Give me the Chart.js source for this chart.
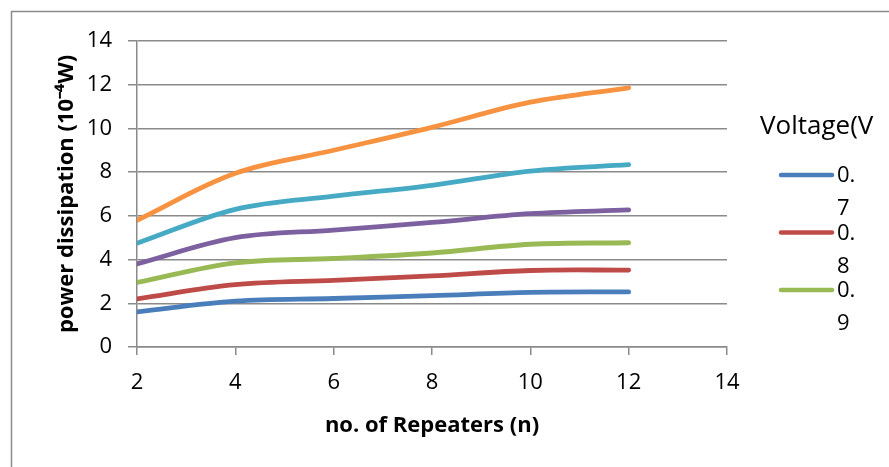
<!DOCTYPE html>
<html>
<head>
<meta charset="utf-8">
<script src="https://cdn.jsdelivr.net/npm/chart.js@4"></script>
<style>
  html, body { margin: 0; padding: 0; background: #fff; }
  #wrap { width: 889px; height: 467px; }
</style>
</head>
<body>
<div id="wrap"><canvas id="chart" width="889" height="467"></canvas></div>
<script>
// data
const repeaters = [2, 4, 6, 8, 10, 12];
const voltages = ['0.7', '0.8', '0.9', '1.0', '1.1', '1.2'];
const power07 = [1.61, 2.10, 2.22, 2.35, 2.50, 2.52];
const power08 = [2.20, 2.85, 3.05, 3.25, 3.50, 3.52];
const power09 = [2.95, 3.85, 4.05, 4.30, 4.70, 4.77];
const power10 = [3.80, 5.00, 5.35, 5.70, 6.10, 6.27];
const power11 = [4.75, 6.30, 6.90, 7.40, 8.05, 8.34];
const power12 = [5.80, 7.95, 9.00, 10.05, 11.20, 11.86];
const xTicks = [2, 4, 6, 8, 10, 12, 14];
const yTicks = [0, 2, 4, 6, 8, 10, 12, 14];

const seriesValues = [power07, power08, power09, power10, power11, power12];
const seriesColors = ['#4A7EBB', '#BE4B48', '#98B954', '#7D60A0', '#46AAC5', '#F69240'];
const gridColor = '#8a8a8a';
const FONT = '"Open Sans", "Liberation Sans", sans-serif';

// legend on the right, cut off after three entries like the original
const sideLegend = {
    id: 'sideLegend',
    beforeDraw(chart) {
        const ctx = chart.ctx;
        ctx.save();
        ctx.strokeStyle = gridColor;
        ctx.lineWidth = 1.5;
        ctx.beginPath();
        ctx.moveTo(11.5, 467);
        ctx.lineTo(11.5, 11.5);
        ctx.lineTo(889, 11.5);
        ctx.stroke();
        ctx.restore();
    },
    afterDraw(chart) {
        const ctx = chart.ctx;
        ctx.save();
        ctx.fillStyle = '#000';
        ctx.textBaseline = 'alphabetic';
        ctx.font = '26px ' + FONT;
        ctx.fillText('Voltage(V', 760, 134);
        ctx.font = '22px ' + FONT;
        ctx.textBaseline = 'middle';
        for (let i = 0; i < 3; i++) {
            const y = 175 + i * 57.5;
            ctx.strokeStyle = chart.data.datasets[i].borderColor;
            ctx.lineWidth = 4.5;
            ctx.lineCap = 'round';
            ctx.beginPath();
            ctx.moveTo(781, y);
            ctx.lineTo(832, y);
            ctx.stroke();
            const parts = chart.data.datasets[i].label.split('.');
            ctx.fillText(parts[0] + '.', 837, y + 1);
            ctx.fillText(parts[1], 837, y + 34);
        }
        ctx.restore();
    }
};

const datasets = seriesValues.map((vals, i) => ({
    label: voltages[i],
    data: vals.map((v, j) => ({ x: repeaters[j], y: v })),
    borderColor: seriesColors[i],
    borderWidth: 4.8,
    borderCapStyle: 'round',
    pointRadius: 0,
    tension: 0.35,
    fill: false
}));

new Chart(document.getElementById('chart'), {
    type: 'line',
    data: { datasets },
    plugins: [sideLegend],
    options: {
        responsive: false,
        animation: false,
        layout: { padding: { top: 41, right: 162, left: 0, bottom: 0 } },
        plugins: { legend: { display: false }, tooltip: { enabled: false } },
        scales: {
            x: {
                type: 'linear',
                min: xTicks[0],
                max: xTicks[xTicks.length - 1],
                afterBuildTicks: s => { s.ticks = xTicks.map(v => ({ value: v })); },
                afterFit: s => { s.height = 120; },
                ticks: { color: '#000', font: { family: FONT, size: 22 }, padding: 15, maxRotation: 0 },
                grid: { drawOnChartArea: false, drawTicks: true, tickLength: 8, color: gridColor, lineWidth: 1.5 },
                border: { color: gridColor, width: 1.5 },
                title: {
                    display: true,
                    text: 'no. of Repeaters (n)',
                    color: '#000',
                    font: { family: FONT, size: 22, weight: 'bold' },
                    padding: { top: 0, bottom: 28 }
                }
            },
            y: {
                min: yTicks[0],
                max: yTicks[yTicks.length - 1],
                afterBuildTicks: s => { s.ticks = yTicks.map(v => ({ value: v })); },
                afterFit: s => { s.width = 137; },
                ticks: { color: '#000', font: { family: FONT, size: 22 }, padding: 16 },
                grid: { color: gridColor, lineWidth: 1.5, tickLength: 9 },
                border: { color: gridColor, width: 1.5 },
                title: {
                    display: true,
                    text: 'power dissipation (10⁻⁴W)',
                    color: '#000',
                    font: { family: FONT, size: 22, weight: 'bold' },
                    padding: { top: 54, bottom: 0 }
                }
            }
        }
    }
});
</script>
</body>
</html>
